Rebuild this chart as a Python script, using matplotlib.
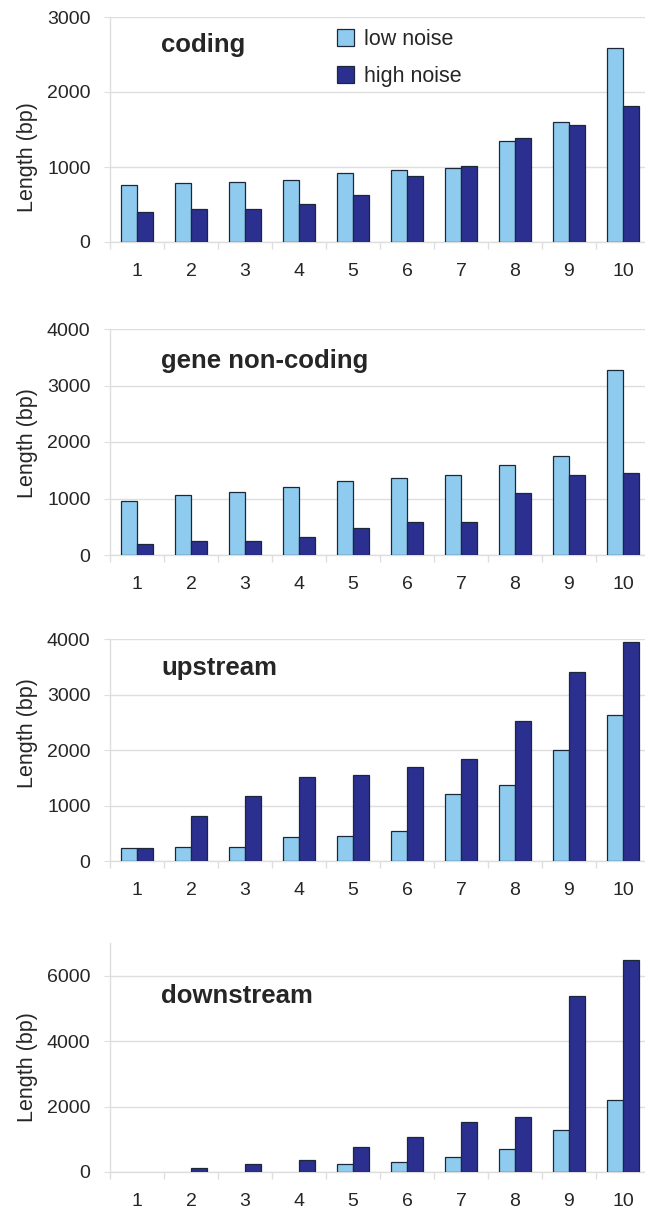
import numpy as np
import matplotlib as mpl
mpl.use('Agg')
import matplotlib.pyplot as plt
from matplotlib.patches import Patch

plt.rcParams["font.family"] = ["Liberation Sans", "DejaVu Sans"]

W, H = 645, 1211

bins = [1, 2, 3, 4, 5, 6, 7, 8, 9, 10]

coding_low = [756, 782, 800, 822, 924, 964, 987, 1342, 1600, 2587]
coding_high = [404, 440, 440, 507, 631, 884, 1009, 1387, 1556, 1809]

noncoding_low = [950, 1062, 1121, 1204, 1316, 1369, 1422, 1593, 1758, 3274]
noncoding_high = [195, 254, 254, 313, 478, 584, 584, 1091, 1422, 1451]

upstream_low = [229, 259, 259, 434, 459, 549, 1200, 1376, 1997, 2630]
upstream_high = [229, 802, 1170, 1514, 1544, 1689, 1834, 2516, 3397, 3952]

downstream_low = [0, 0, 0, 0, 257, 319, 462, 699, 1285, 2210]
downstream_high = [0, 123, 257, 360, 750, 1079, 1531, 1675, 5365, 6485]

LIGHT = "#8fcbef"
DARK = "#2b2f8f"
EDGE = "#1c2838"
GRID = "#dedede"
TXT = "#262626"

# (title, low, high, ymax, ystep, top px, bottom px, title y px, ylabel y px)
panels = [
    ("coding", coding_low, coding_high, 3000, 1000, 17, 242, 45, 157),
    ("gene non-coding", noncoding_low, noncoding_high, 4000, 1000, 329, 555, 361, 443),
    ("upstream", upstream_low, upstream_high, 4000, 1000, 639, 861, 668, 733),
    ("downstream", downstream_low, downstream_high, 7000, 2000, 943, 1172, 996, 1067),
]

fig = plt.figure(figsize=(W / 100, H / 100), dpi=100)
x = np.array(bins)
bw = 0.3


def edge_widths(vals):
    # empty bins get no outline, so nothing shows at zero
    return [0.9 if v > 0 else 0 for v in vals]


for title, low, high, ymax, ystep, top, bot, ty, ly in panels:
    ax = fig.add_axes([110 / W, 1 - bot / H, 540 / W, (bot - top) / H])
    ax.bar(x - bw / 2, low, bw, color=LIGHT, edgecolor=EDGE,
           linewidth=edge_widths(low), zorder=3)
    ax.bar(x + bw / 2, high, bw, color=DARK, edgecolor=EDGE,
           linewidth=edge_widths(high), zorder=3)
    ax.set_xlim(0.5, 10.5)
    ax.set_ylim(0, ymax)
    ax.set_yticks(np.arange(0, ymax + 1, ystep))
    ax.set_xticks(x)
    ax.set_xticks(np.arange(0.5, 11, 1), minor=True)
    ax.yaxis.grid(True, color=GRID, linewidth=1.0, zorder=0)
    ax.set_axisbelow(True)
    for s in ("top", "right"):
        ax.spines[s].set_visible(False)
    for s in ("left", "bottom"):
        ax.spines[s].set_color(GRID)
        ax.spines[s].set_linewidth(1.0)
    ax.tick_params(axis="x", which="major", length=0, pad=15, labelsize=14, labelcolor=TXT)
    ax.tick_params(axis="x", which="minor", length=5, color=GRID, width=1.0)
    ax.tick_params(axis="y", length=4, color=GRID, pad=10, labelsize=14, labelcolor=TXT)
    fig.text(161 / W, 1 - ty / H, title, fontsize=18.5, fontweight="bold",
             color=TXT, ha="left", va="center")
    fig.text(28 / W, 1 - ly / H, "Length (bp)", fontsize=15.5, rotation=90,
             color=TXT, ha="center", va="center")

handles = [Patch(facecolor=LIGHT, edgecolor=EDGE, linewidth=0.9, label="low noise"),
           Patch(facecolor=DARK, edgecolor=EDGE, linewidth=0.9, label="high noise")]
leg = fig.legend(handles=handles, loc="upper left", bbox_to_anchor=(337 / W, 1 - 29 / H),
                 bbox_transform=fig.transFigure, frameon=False, fontsize=15.5,
                 handlelength=0.8, handleheight=0.8, handletextpad=0.45,
                 labelspacing=0.75, borderpad=0, borderaxespad=0)
for t in leg.get_texts():
    t.set_color(TXT)

fig.savefig("out.png", dpi=100)
plt.close(fig)
